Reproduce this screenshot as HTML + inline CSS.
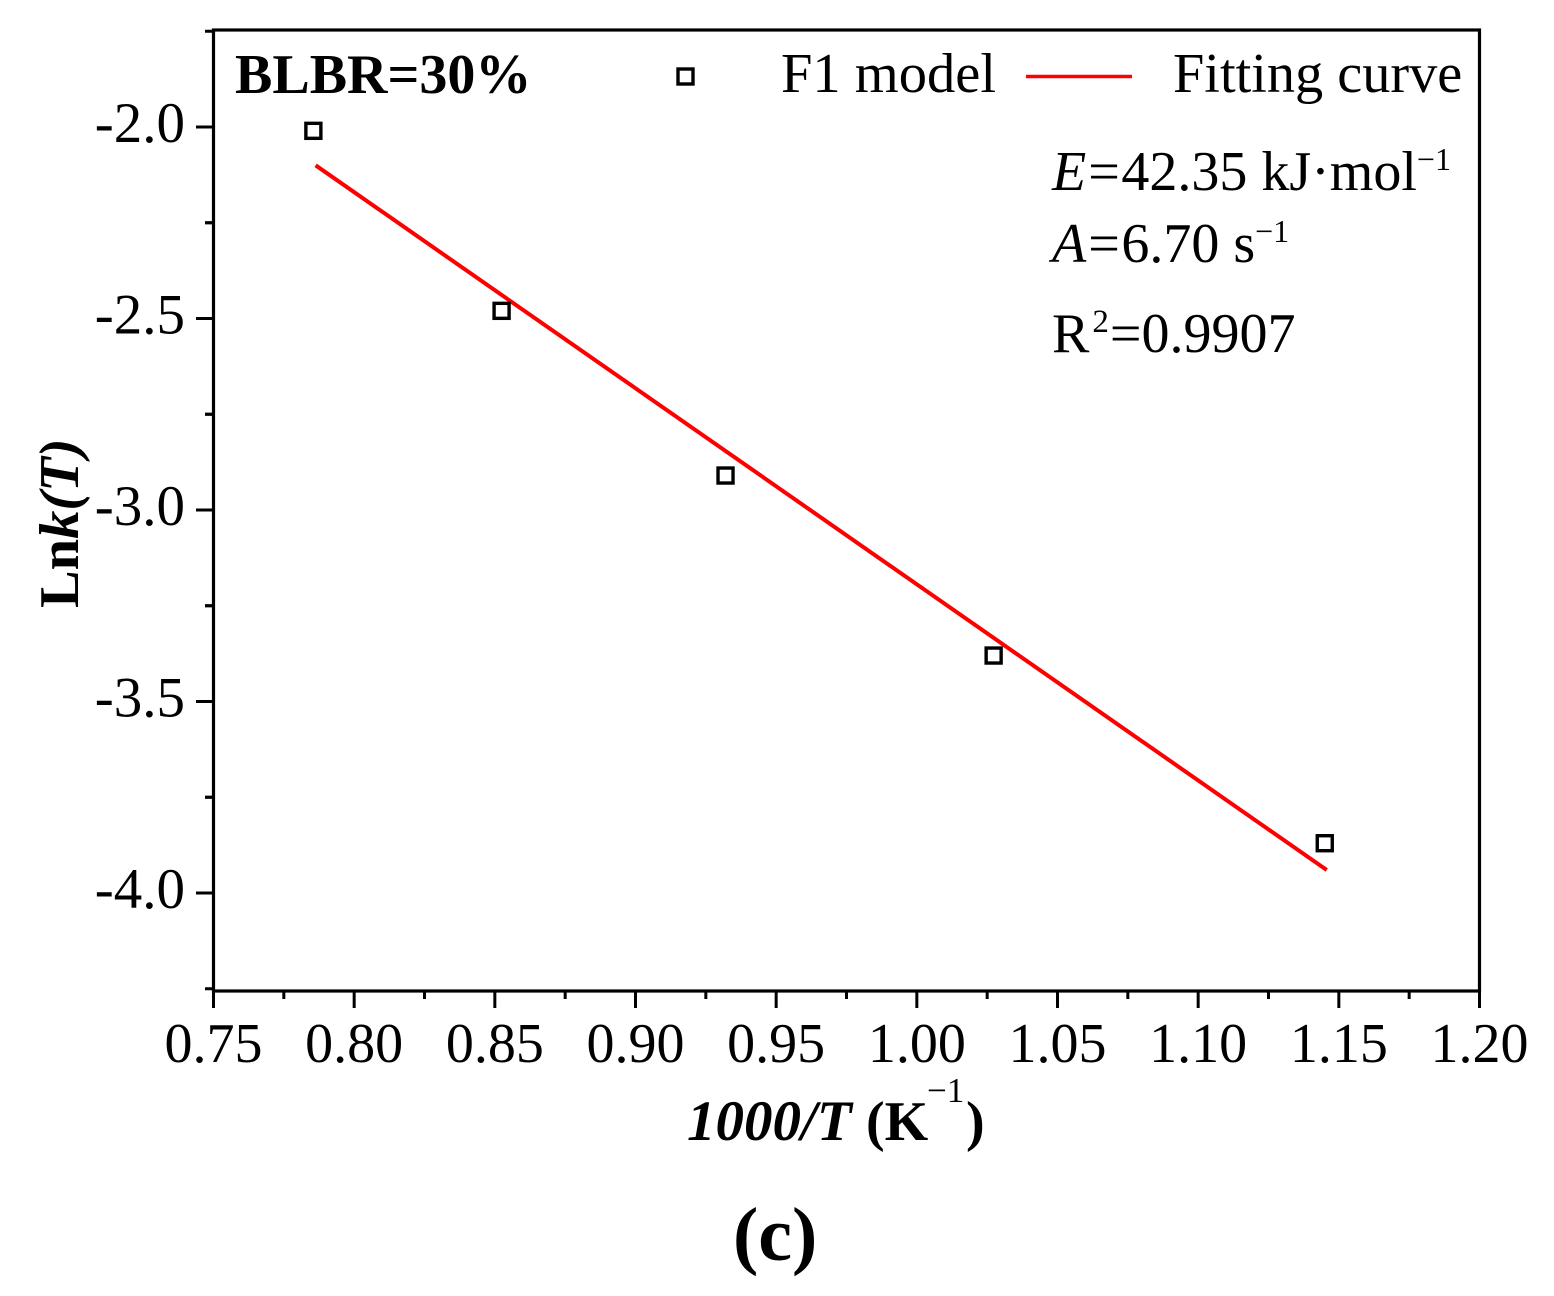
<!DOCTYPE html>
<html>
<head>
<meta charset="utf-8">
<style>
html,body{margin:0;padding:0;background:#fff;width:1554px;height:1296px;overflow:hidden}
svg{display:block}
text{font-family:"Liberation Serif",serif;fill:#000}
</style>
</head>
<body>
<svg id="chart" width="1554" height="1296" viewBox="0 0 1554 1296" xmlns="http://www.w3.org/2000/svg">
<rect x="213.5" y="30" width="1266" height="961" fill="none" stroke="#000" stroke-width="3.2"/>
<g id="ticks"></g>
<g id="labels"></g>
<g id="marks"></g>
<text x="235" y="93" font-size="56" font-weight="bold">BLBR=30%</text>
<rect x="678" y="69" width="15" height="15" fill="none" stroke="#000" stroke-width="3.4"/>
<text x="781" y="92" font-size="56.5">F1 model</text>
<line x1="1026" y1="76.5" x2="1132" y2="76.5" stroke="#f00" stroke-width="3.5"/>
<text x="1173" y="92" font-size="56.3">Fitting curve</text>
<text x="1052" y="190" font-size="56"><tspan font-style="italic">E</tspan><tspan dx="2">=</tspan><tspan dx="1.5">42.35 kJ</tspan><tspan>·</tspan><tspan>mol</tspan><tspan font-size="32" dy="-20">−1</tspan></text>
<text x="1052" y="262" font-size="56"><tspan font-style="italic">A</tspan><tspan dx="2">=</tspan><tspan dx="1.5">6.70 s</tspan><tspan font-size="32" dy="-20">−1</tspan></text>
<text x="1052" y="352" font-size="56">R<tspan font-size="33" dx="3" dy="-20">2</tspan><tspan dx="1" dy="20">=0.9907</tspan></text>
<text transform="translate(78,608) rotate(-90)" font-size="56.5" font-weight="bold">Ln<tspan font-style="italic">k(T)</tspan></text>
<text x="687" y="1140" font-size="57" font-weight="bold"><tspan font-style="italic">1000/T</tspan><tspan x="866" font-size="56">(K</tspan><tspan x="927" y="1102" font-size="35" font-weight="normal">−1</tspan><tspan x="966" y="1140" font-size="56">)</tspan></text>
<text x="733" y="1260" font-size="76" font-weight="bold">(c)</text>
</svg>
<script>
const xTickValues = ["0.75","0.80","0.85","0.90","0.95","1.00","1.05","1.10","1.15","1.20"];
const yTickValues = ["-2.0","-2.5","-3.0","-3.5","-4.0"];
const f1Temps = [0.7855,0.8524,0.932,1.0273,1.145];
const f1LnK = [-2.01,-2.48,-2.91,-3.38,-3.87];
const fitTemps = [0.7863,1.1457];
const fitLnK = [-2.10,-3.94];

const NS = 'http://www.w3.org/2000/svg';
const X = v => 213.5 + (v - 0.75) / 0.45 * 1266;
const Y = v => 127 + (-2 - v) / 2 * 766;
const mk = (parent, tag, attrs) => {
  const el = document.createElementNS(NS, tag);
  for (const k in attrs) el.setAttribute(k, attrs[k]);
  parent.appendChild(el);
  return el;
};
const ticks = document.getElementById('ticks');
const labels = document.getElementById('labels');
const marks = document.getElementById('marks');

xTickValues.forEach((t, i) => {
  const v = parseFloat(t);
  const px = X(v);
  const major = mk(ticks, 'line', {x1: px, x2: px, y1: 991, y2: 1008, stroke: '#000', 'stroke-width': 3});
  
  
  if (i < xTickValues.length - 1) {
    const mx = X(v + 0.025);
    const minor = mk(ticks, 'line', {x1: mx, x2: mx, y1: 991, y2: 999, stroke: '#000', 'stroke-width': 3});
    
    
  }
  const label = mk(labels, 'text', {x: px, y: 1062, 'font-size': 56, 'text-anchor': 'middle'});
  label.textContent = t;
  
  
});

yTickValues.forEach(t => {
  const v = parseFloat(t);
  const py = Y(v);
  const major = mk(ticks, 'line', {x1: 196, x2: 213, y1: py, y2: py, stroke: '#000', 'stroke-width': 3});
  
  
  [v + 0.25, v - 0.25].forEach(m => {
    const my = Y(m);
    const minor = mk(ticks, 'line', {x1: 205, x2: 213, y1: my, y2: my, stroke: '#000', 'stroke-width': 3});
    
    
  });
  const label = mk(labels, 'text', {x: 185, y: py + 15, 'font-size': 57, 'text-anchor': 'end'});
  label.textContent = t;
  
  
});

const fit = mk(marks, 'polyline', {
  points: fitTemps.map((t, i) => X(t) + ',' + Y(fitLnK[i])).join(' '),
  fill: 'none', stroke: '#f00', 'stroke-width': 4
});



f1Temps.forEach((t, i) => {
  const p = mk(marks, 'rect', {
    x: X(t) - 7.5, y: Y(f1LnK[i]) - 7.5, width: 15, height: 15,
    fill: 'none', stroke: '#000', 'stroke-width': 3.4
  });
  
  
});
</script>
</body>
</html>
